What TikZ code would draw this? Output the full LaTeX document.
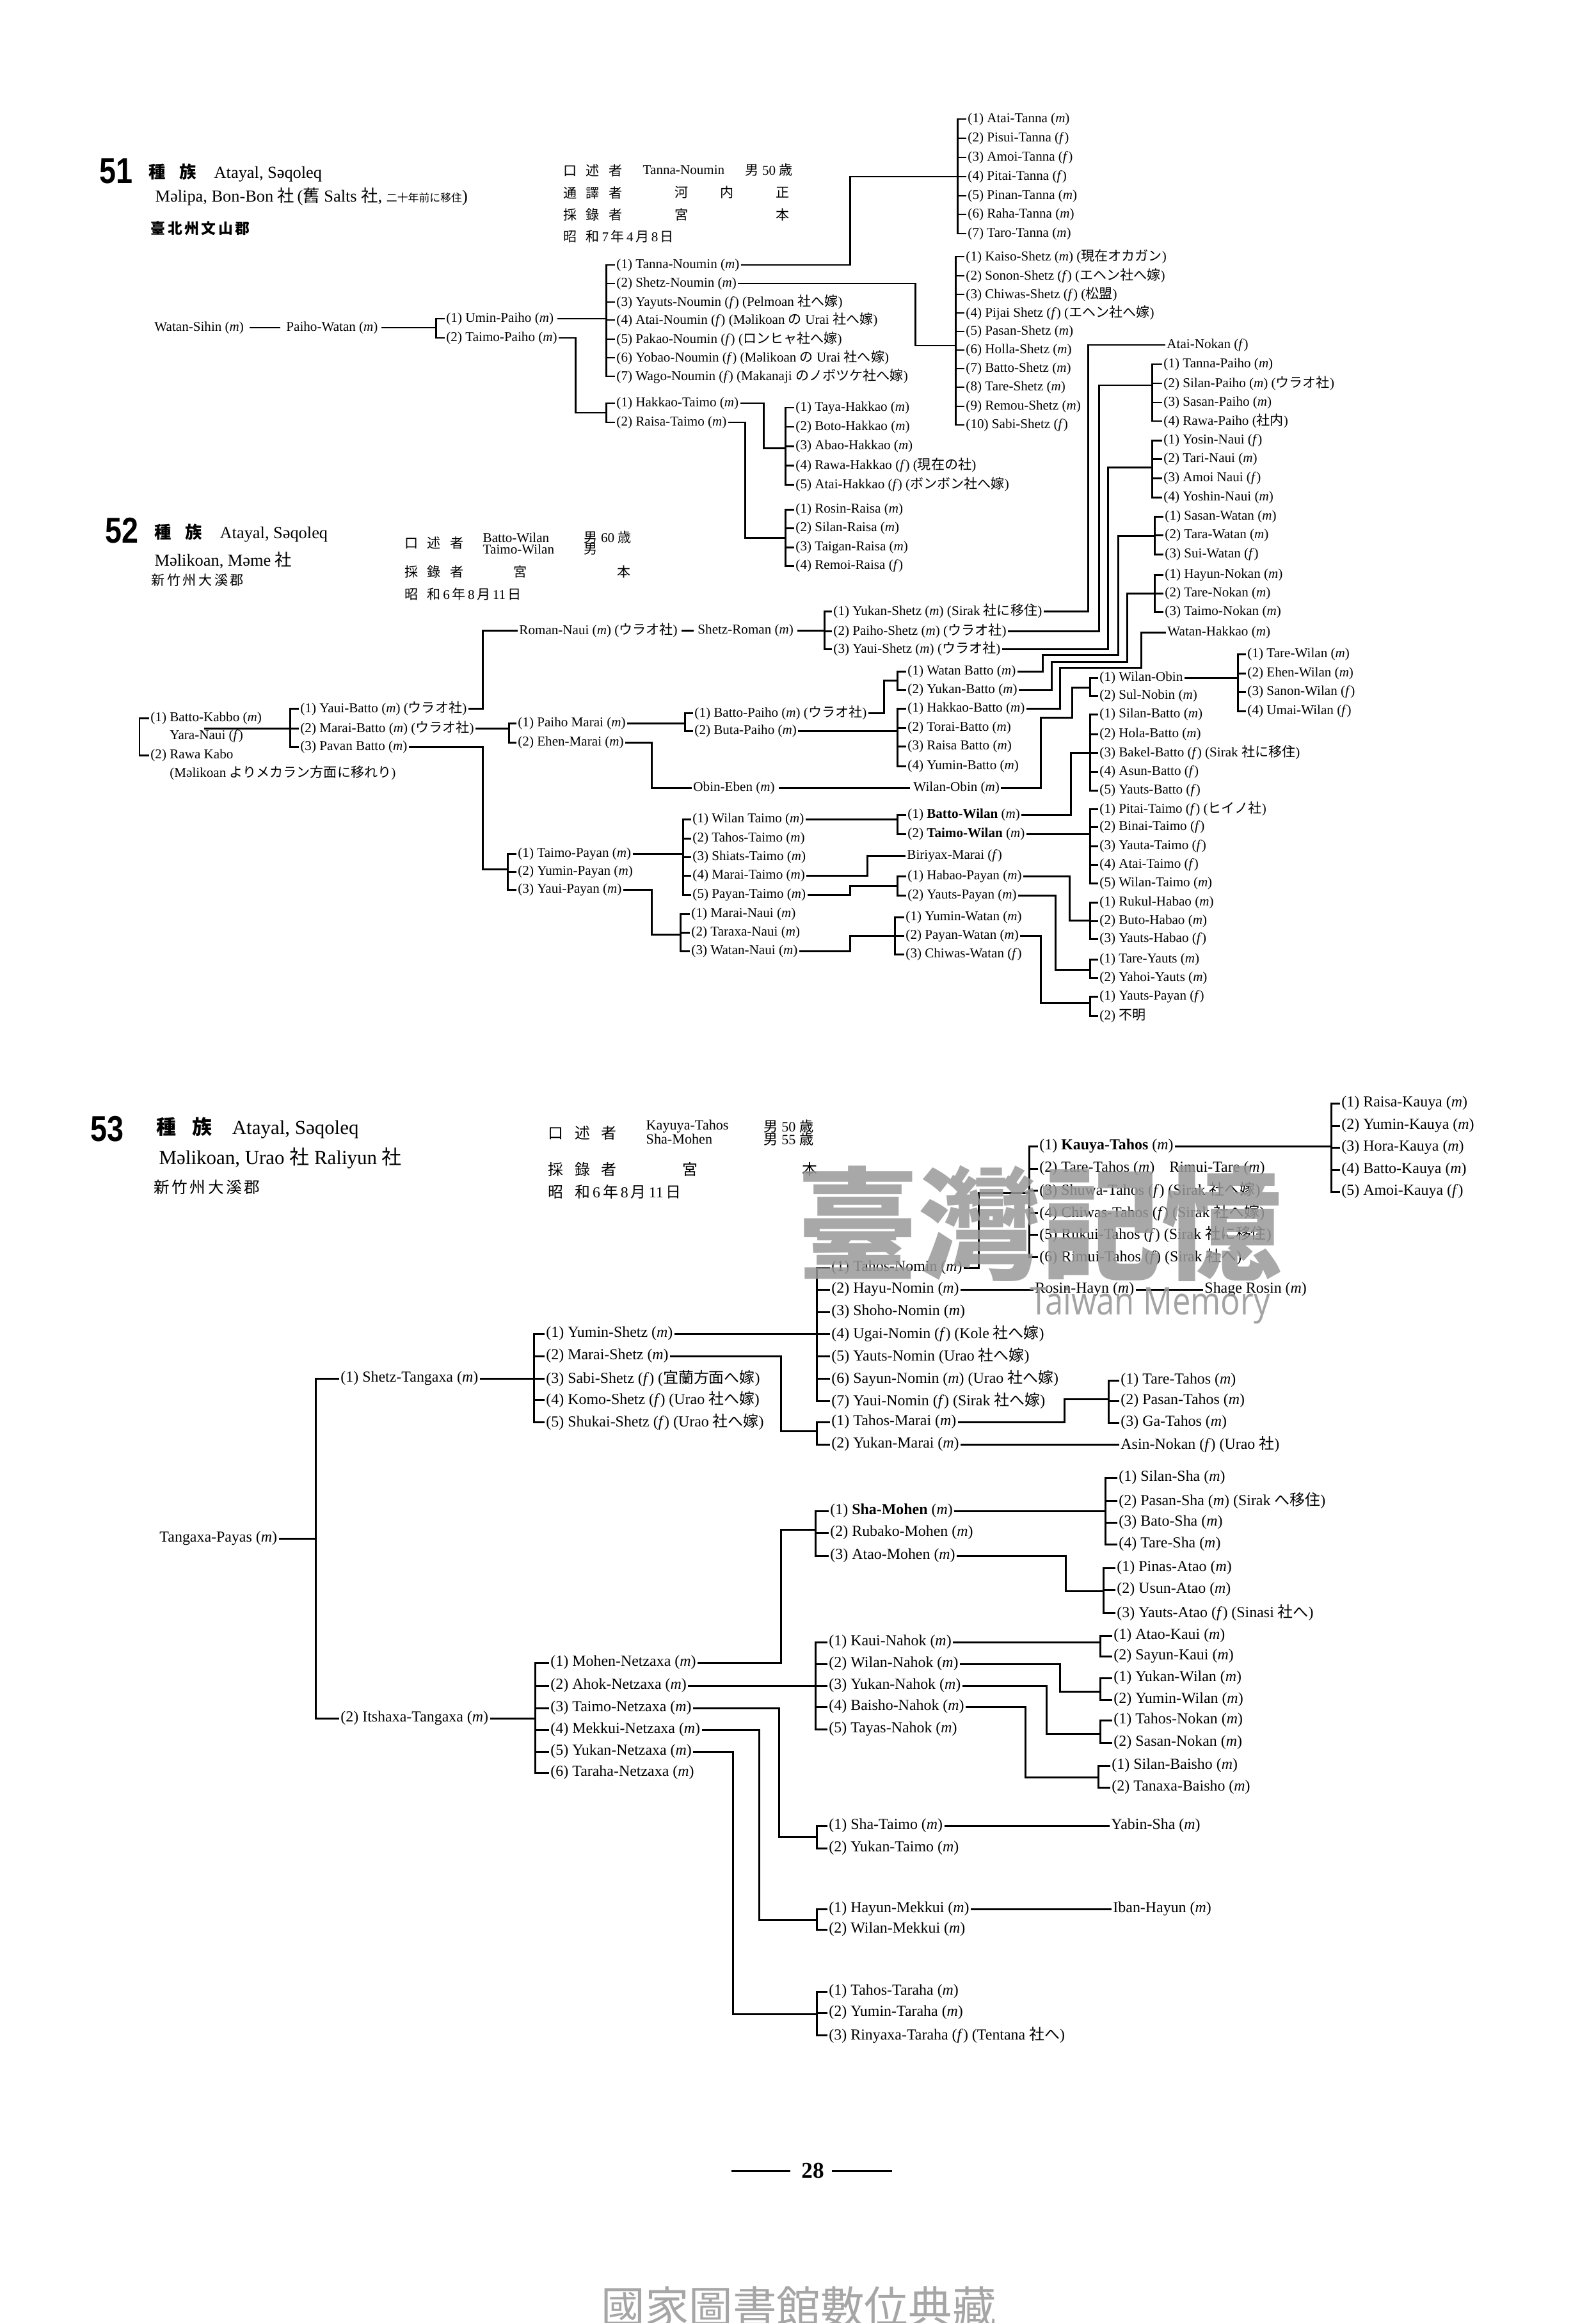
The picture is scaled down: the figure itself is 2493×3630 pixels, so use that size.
\documentclass[tikz,border=0pt]{standalone}
\usepackage{fontspec}
\usepackage{graphicx}
\setmainfont{Liberation Serif}
\newfontfamily\jp{Noto Sans CJK JP}
\newfontfamily\hdsans{Liberation Sans}
\newfontfamily\wmsans{Open Sans}
\newcommand\J[1]{{\jp #1}}
\newcommand\mal{(\textit{m})}
\newcommand\fem{(\textit{f})}
\newcommand\szA{\fontsize{6}{7}\selectfont}
\newcommand\szB{\fontsize{6.8}{8}\selectfont}
\newcommand\szH{\fontsize{7.5}{9}\selectfont}
\newcommand\szG{\fontsize{8.8}{10}\selectfont}
\newcommand\brk[4]{%
  \draw[conn] (#2.west) -- ++(-#1,0) |- (#3.west);
  \foreach \q in {#4}{\draw[conn] (\q.west) -- ++(-#1,0);}%
}
\tikzset{
  nm/.style={anchor=west,inner sep=0.5pt,font=\szA},
  nmb/.style={anchor=west,inner sep=0.5pt,font=\szB},
  hdr/.style={anchor=west,inner sep=0pt},
  cc/.style={inner sep=0pt},
  conn/.style={line width=0.85pt},
}
\begin{document}
\begin{tikzpicture}[x=0.01cm,y=-0.01cm]
\useasboundingbox (0,0) rectangle (2493,3630);
\fill[white] (0,0) rectangle (2493,3630);

% ================= 51 header
\node[hdr] (h51n) at (155,267) {\hdsans\bfseries\fontsize{16}{16}\selectfont\scalebox{0.83}[1]{51}};
\node[hdr] (h51a) at (232,270) {\szH\J{\bfseries 種\hspace{6pt}族}\hspace{8pt}Atayal, Səqoleq};
\node[hdr] (h51b) at (242,307) {\szH Məlipa, Bon-Bon \J{社}\,(\J{舊} Salts \J{社}, {\fontsize{4.8}{5}\selectfont\J{二十年前に移住}})};
\node[hdr] (h51c) at (235,357) {\J{\bfseries\fontsize{6.5}{7}\selectfont 臺\hspace{1pt}北\hspace{1pt}州\hspace{1pt}文\hspace{1pt}山\hspace{1pt}郡}};
\node[hdr] (i51a) at (880,266) {\szA\J{口\hspace{4pt}述\hspace{4pt}者}};
\node[hdr] (i51b) at (1004,266) {\szA Tanna-Noumin};
\node[hdr] (i51c) at (1164,266) {\szA\J{男} 50 \J{歳}};
\node[hdr] (i51d) at (880,301) {\szA\J{通\hspace{4pt}譯\hspace{4pt}者}};
\node[cc] (i51e) at (1065,301) {\szA\J{河}};
\node[cc] (i51f) at (1136,301) {\szA\J{内}};
\node[cc] (i51g) at (1223,301) {\szA\J{正}};
\node[hdr] (i51h) at (880,335) {\szA\J{採\hspace{4pt}錄\hspace{4pt}者}};
\node[cc] (i51i) at (1065,335) {\szA\J{宮}};
\node[cc] (i51j) at (1223,335) {\szA\J{本}};
\node[hdr] (i51k) at (880,369) {\szA\J{昭\hspace{4pt}和}\,7\,\J{年}\,4\,\J{月}\,8\,\J{日}};

% ================= 51 tree
\node[nm] (ws) at (239,512) {Watan-Sihin \mal};
\node[nm] (pw) at (445,512) {Paiho-Watan \mal};
\draw[conn] ([xshift=2pt]ws.east) -- ([xshift=-2pt]pw.west);
\node[nm] (up) at (695,498) {(1) Umin-Paiho \mal};
\node[nm] (tpo) at (695,528) {(2) Taimo-Paiho \mal};
\brk{14}{up}{tpo}{up}
\coordinate (j1) at (681,512);
\draw[conn] ([xshift=1pt]pw.east) -- (j1);

\node[nm] (n1) at (961,414) {(1) Tanna-Noumin \mal};
\node[nm] (n2) at (961,443) {(2) Shetz-Noumin \mal};
\node[nm] (n3) at (961,472) {(3) Yayuts-Noumin \fem{} (Pelmoan \J{社へ嫁})};
\node[nm] (n4) at (961,500) {(4) Atai-Noumin \fem{} (Məlikoan \J{の} Urai \J{社へ嫁})};
\node[nm] (n5) at (961,530) {(5) Pakao-Noumin \fem{} (\J{ロンヒャ社へ嫁})};
\node[nm] (n6) at (961,559) {(6) Yobao-Noumin \fem{} (Məlikoan \J{の} Urai \J{社へ嫁})};
\node[nm] (n7) at (961,588) {(7) Wago-Noumin \fem{} (Makanaji \J{のノボツケ社へ嫁})};
\brk{14}{n1}{n7}{n2,n3,n4,n5,n6}
\coordinate (j2) at (947,498);
\draw[conn] ([xshift=1pt]up.east) -- (j2);

\node[nm] (h1) at (961,630) {(1) Hakkao-Taimo \mal};
\node[nm] (h2) at (961,660) {(2) Raisa-Taimo \mal};
\brk{14}{h1}{h2}{h1}
\coordinate (j3) at (947,645);
\draw[conn] (tpo.east) -| (899,645) -- (j3);

\node[nm] (t1) at (1510,186) {(1) Atai-Tanna \mal};
\node[nm] (t2) at (1510,216) {(2) Pisui-Tanna \fem};
\node[nm] (t3) at (1510,246) {(3) Amoi-Tanna \fem};
\node[nm] (t4) at (1510,276) {(4) Pitai-Tanna \fem};
\node[nm] (t5) at (1510,306) {(5) Pinan-Tanna \mal};
\node[nm] (t6) at (1510,335) {(6) Raha-Tanna \mal};
\node[nm] (t7) at (1510,365) {(7) Taro-Tanna \mal};
\brk{14}{t1}{t7}{t2,t3,t4,t5,t6}
\coordinate (j4) at (1496,276);
\draw[conn] (n1.east) -| (1328,276) -- (j4);

\node[nm] (s1) at (1507,401) {(1) Kaiso-Shetz \mal{} (\J{現在オカガン})};
\node[nm] (s2) at (1507,431) {(2) Sonon-Shetz \fem{} (\J{エヘン社へ嫁})};
\node[nm] (s3) at (1507,460) {(3) Chiwas-Shetz \fem{} (\J{松盟})};
\node[nm] (s4) at (1507,489) {(4) Pijai Shetz \fem{} (\J{エヘン社へ嫁})};
\node[nm] (s5) at (1507,518) {(5) Pasan-Shetz \mal};
\node[nm] (s6) at (1507,547) {(6) Holla-Shetz \mal};
\node[nm] (s7) at (1507,576) {(7) Batto-Shetz \mal};
\node[nm] (s8) at (1507,605) {(8) Tare-Shetz \mal};
\node[nm] (s9) at (1507,635) {(9) Remou-Shetz \mal};
\node[nm] (s10) at (1507,664) {(10) Sabi-Shetz \fem};
\brk{14}{s1}{s10}{s2,s3,s4,s5,s6,s7,s8,s9}
\coordinate (j5) at (1493,540);
\draw[conn] (n2.east) -| (1430,540) -- (j5);

\node[nm] (k1) at (1241,637) {(1) Taya-Hakkao \mal};
\node[nm] (k2) at (1241,667) {(2) Boto-Hakkao \mal};
\node[nm] (k3) at (1241,697) {(3) Abao-Hakkao \mal};
\node[nm] (k4) at (1241,727) {(4) Rawa-Hakkao \fem{} (\J{現在の社})};
\node[nm] (k5) at (1241,757) {(5) Atai-Hakkao \fem{} (\J{ボンボン社へ嫁})};
\brk{14}{k1}{k5}{k2,k3,k4}
\coordinate (j6) at (1227,700);
\draw[conn] (h1.east) -| (1193,700) -- (j6);

\node[nm] (r1) at (1241,796) {(1) Rosin-Raisa \mal};
\node[nm] (r2) at (1241,825) {(2) Silan-Raisa \mal};
\node[nm] (r3) at (1241,855) {(3) Taigan-Raisa \mal};
\node[nm] (r4) at (1241,884) {(4) Remoi-Raisa \fem};
\brk{14}{r1}{r4}{r2,r3}
\coordinate (j7) at (1227,840);
\draw[conn] (h2.east) -| (1164,840) -- (j7);

% ================= 52 header
\node[hdr] (h52n) at (164,829) {\hdsans\bfseries\fontsize{16}{16}\selectfont\scalebox{0.83}[1]{52}};
\node[hdr] (h52a) at (241,833) {\szH\J{\bfseries 種\hspace{6pt}族}\hspace{8pt}Atayal, Səqoleq};
\node[hdr] (h52b) at (241,875) {\szH Məlikoan, Məme \J{社}};
\node[hdr] (h52c) at (236,907) {\J{\fontsize{6}{7}\selectfont 新\hspace{1pt}竹\hspace{1pt}州\hspace{1pt}大\hspace{1pt}溪\hspace{1pt}郡}};
\node[hdr] (i52a) at (632,848) {\szA\J{口\hspace{4pt}述\hspace{4pt}者}};
\node[hdr] (i52b) at (754,840) {\szA Batto-Wilan};
\node[hdr] (i52c) at (754,858) {\szA Taimo-Wilan};
\node[hdr] (i52d) at (912,840) {\szA\J{男} 60 \J{歳}};
\node[hdr] (i52e) at (912,858) {\szA\J{男}};
\node[hdr] (i52f) at (632,893) {\szA\J{採\hspace{4pt}錄\hspace{4pt}者}};
\node[cc] (i52g) at (813,893) {\szA\J{宮}};
\node[cc] (i52h) at (975,893) {\szA\J{本}};
\node[hdr] (i52i) at (632,928) {\szA\J{昭\hspace{4pt}和}\,6\,\J{年}\,8\,\J{月}\,11\,\J{日}};

% ================= 52 tree
\node[nm] (bk) at (233,1122) {(1) Batto-Kabbo \mal};
\node[nm] (rk) at (233,1180) {(2) Rawa Kabo};
\brk{15}{bk}{rk}{bk}
\node[nm] (yn) at (263,1150) {Yara-Naui \fem};
\node[nm] (mnote) at (263,1208) {(Məlikoan \J{よりメカラン方面に移れり})};
\coordinate (mk) at (319,1138);
\coordinate (j8) at (453,1138);
\draw[conn] (mk) -- (j8);

\node[nm] (yb) at (467,1107) {(1) Yaui-Batto \mal{} (\J{ウラオ社})};
\node[nm] (mb) at (467,1138) {(2) Marai-Batto \mal{} (\J{ウラオ社})};
\node[nm] (pb) at (467,1167) {(3) Pavan Batto \mal};
\brk{14}{yb}{pb}{mb}

\node[nm] (rn) at (809,985) {Roman-Naui \mal{} (\J{ウラオ社})};
\node[nm] (sr) at (1088,985) {Shetz-Roman \mal};
\draw[conn] (yb.east) -| (754,985) -- (rn.west);
\draw[conn] ([xshift=1pt]rn.east) -- ([xshift=-1pt]sr.west);
\node[nm] (ys) at (1300,955) {(1) Yukan-Shetz \mal{} (Sirak \J{社に移住})};
\node[nm] (ps) at (1300,986) {(2) Paiho-Shetz \mal{} (\J{ウラオ社})};
\node[nm] (ys3) at (1300,1014) {(3) Yaui-Shetz \mal{} (\J{ウラオ社})};
\brk{12}{ys}{ys3}{ps}
\coordinate (j9) at (1288,985);
\draw[conn] ([xshift=1pt]sr.east) -- (j9);

\node[nm] (an) at (1821,539) {Atai-Nokan \fem};
\draw[conn] (ys.east) -| (1700,539) -- (an.west);

\node[nm] (pa1) at (1816,569) {(1) Tanna-Paiho \mal};
\node[nm] (pa2) at (1816,599) {(2) Silan-Paiho \mal{} (\J{ウラオ社})};
\node[nm] (pa3) at (1816,629) {(3) Sasan-Paiho \mal};
\node[nm] (pa4) at (1816,658) {(4) Rawa-Paiho (\J{社内})};
\brk{16}{pa1}{pa4}{pa2,pa3}
\coordinate (j10) at (1800,602);
\draw[conn] (ps.east) -| (1717,602) -- (j10);

\node[nm] (na1) at (1816,688) {(1) Yosin-Naui \fem};
\node[nm] (na2) at (1816,717) {(2) Tari-Naui \mal};
\node[nm] (na3) at (1816,747) {(3) Amoi Naui \fem};
\node[nm] (na4) at (1816,777) {(4) Yoshin-Naui \mal};
\brk{16}{na1}{na4}{na2,na3}
\coordinate (j11) at (1800,730);
\draw[conn] (ys3.east) -| (1731,730) -- (j11);

\node[nm] (wa1) at (1818,807) {(1) Sasan-Watan \mal};
\node[nm] (wa2) at (1818,836) {(2) Tara-Watan \mal};
\node[nm] (wa3) at (1818,866) {(3) Sui-Watan \fem};
\brk{14}{wa1}{wa3}{wa2}
\coordinate (j12) at (1804,837);

\node[nm] (no1) at (1818,898) {(1) Hayun-Nokan \mal};
\node[nm] (no2) at (1818,927) {(2) Tare-Nokan \mal};
\node[nm] (no3) at (1818,956) {(3) Taimo-Nokan \mal};
\brk{14}{no1}{no3}{no2}
\coordinate (j13) at (1804,927);
\node[nm] (wh) at (1822,988) {Watan-Hakkao \mal};

\node[nm] (pm) at (807,1130) {(1) Paiho Marai \mal};
\node[nm] (em) at (807,1160) {(2) Ehen-Marai \mal};
\brk{12}{pm}{em}{pm}
\coordinate (j14) at (795,1138);
\draw[conn] (mb.east) -- (j14);

\node[nm] (bp1) at (1083,1114) {(1) Batto-Paiho \mal{} (\J{ウラオ社})};
\node[nm] (bp2) at (1083,1142) {(2) Buta-Paiho \mal};
\brk{13}{bp1}{bp2}{bp1}
\coordinate (j15) at (1070,1130);
\draw[conn] (pm.east) -- (j15);

\node[nm] (wb1) at (1416,1049) {(1) Watan Batto \mal};
\node[nm] (wb2) at (1416,1078) {(2) Yukan-Batto \mal};
\brk{14}{wb1}{wb2}{wb1}
\coordinate (j16) at (1402,1063);
\draw[conn] (bp1.east) -| (1381,1063) -- (j16);

\node[nm] (hb1) at (1416,1107) {(1) Hakkao-Batto \mal};
\node[nm] (hb2) at (1416,1137) {(2) Torai-Batto \mal};
\node[nm] (hb3) at (1416,1166) {(3) Raisa Batto \mal};
\node[nm] (hb4) at (1416,1197) {(4) Yumin-Batto \mal};
\brk{14}{hb1}{hb4}{hb2,hb3}
\coordinate (j17) at (1402,1142);
\draw[conn] (bp2.east) -- (j17);

\draw[conn] (wb1.east) -| (1629,1023) -| (1747,837) -- (j12);
\draw[conn] (wb2.east) -| (1643,1034) -| (1761,927) -- (j13);
\draw[conn] (hb1.east) -| (1656,1043) -| (1783,988) -- (wh.west);

\node[nm] (oe) at (1081,1231) {Obin-Eben \mal};
\draw[conn] (em.east) -| (1018,1231) -- (oe.west);
\node[nm] (wob) at (1425,1231) {Wilan-Obin \mal};
\draw[conn] ([xshift=1pt]oe.east) -- ([xshift=-1pt]wob.west);

\node[nm] (wo1) at (1716,1059) {(1) Wilan-Obin};
\node[nm] (wo2) at (1716,1087) {(2) Sul-Nobin \mal};
\brk{13}{wo1}{wo2}{wo1}
\coordinate (j18) at (1703,1074);
\draw[conn] (wob.east) -| (1626,1121) -| (1675,1074) -- (j18);

\node[nm] (wi1) at (1947,1022) {(1) Tare-Wilan \mal};
\node[nm] (wi2) at (1947,1052) {(2) Ehen-Wilan \mal};
\node[nm] (wi3) at (1947,1081) {(3) Sanon-Wilan \fem};
\node[nm] (wi4) at (1947,1111) {(4) Umai-Wilan \fem};
\brk{13}{wi1}{wi4}{wi2,wi3}
\coordinate (j19) at (1934,1059);
\draw[conn] (wo1.east) -- (j19);

\node[nm] (sb1) at (1716,1116) {(1) Silan-Batto \mal};
\node[nm] (sb2) at (1716,1147) {(2) Hola-Batto \mal};
\node[nm] (sb3) at (1716,1176) {(3) Bakel-Batto \fem{} (Sirak \J{社に移住})};
\node[nm] (sb4) at (1716,1206) {(4) Asun-Batto \fem};
\node[nm] (sb5) at (1716,1235) {(5) Yauts-Batto \fem};
\brk{13}{sb1}{sb5}{sb2,sb3,sb4}
\coordinate (j20) at (1703,1176);

\node[nm] (bw1) at (1416,1273) {(1) \textbf{Batto-Wilan} \mal};
\node[nm] (bw2) at (1416,1303) {(2) \textbf{Taimo-Wilan} \mal};
\brk{14}{bw1}{bw2}{bw1}
\coordinate (j21) at (1402,1280);
\draw[conn] (bw1.east) -| (1673,1176) -- (j20);

\node[nm] (tk1) at (1716,1264) {(1) Pitai-Taimo \fem{} (\J{ヒイノ社})};
\node[nm] (tk2) at (1716,1292) {(2) Binai-Taimo \fem};
\node[nm] (tk3) at (1716,1322) {(3) Yauta-Taimo \fem};
\node[nm] (tk4) at (1716,1351) {(4) Atai-Taimo \fem};
\node[nm] (tk5) at (1716,1380) {(5) Wilan-Taimo \mal};
\brk{13}{tk1}{tk5}{tk2,tk3,tk4}
\coordinate (j22) at (1703,1303);
\draw[conn] (bw2.east) -- (j22);

\node[nm] (ta1) at (1080,1280) {(1) Wilan Taimo \mal};
\node[nm] (ta2) at (1080,1310) {(2) Tahos-Taimo \mal};
\node[nm] (ta3) at (1080,1339) {(3) Shiats-Taimo \mal};
\node[nm] (ta4) at (1080,1368) {(4) Marai-Taimo \mal};
\node[nm] (ta5) at (1080,1398) {(5) Payan-Taimo \mal};
\brk{13}{ta1}{ta5}{ta2,ta3,ta4}
\draw[conn] (ta1.east) -- (j21);

\node[nm] (bm) at (1415,1337) {Biriyax-Marai \fem};
\draw[conn] (ta4.east) -| (1355,1337) -- (bm.west);

\node[nm] (hp1) at (1416,1369) {(1) Habao-Payan \mal};
\node[nm] (hp2) at (1416,1399) {(2) Yauts-Payan \mal};
\brk{14}{hp1}{hp2}{hp1}
\coordinate (j24) at (1402,1384);
\draw[conn] (ta5.east) -| (1328,1384) -- (j24);

\node[nm] (hk1) at (1716,1410) {(1) Rukul-Habao \mal};
\node[nm] (hk2) at (1716,1439) {(2) Buto-Habao \mal};
\node[nm] (hk3) at (1716,1467) {(3) Yauts-Habao \fem};
\brk{13}{hk1}{hk3}{hk2}
\coordinate (j25) at (1703,1438);
\draw[conn] (hp1.east) -| (1671,1438) -- (j25);

\node[nm] (yk1) at (1716,1499) {(1) Tare-Yauts \mal};
\node[nm] (yk2) at (1716,1528) {(2) Yahoi-Yauts \mal};
\brk{13}{yk1}{yk2}{yk1}
\coordinate (j26) at (1703,1515);
\draw[conn] (hp2.east) -| (1649,1515) -- (j26);

\node[nm] (tpy) at (807,1334) {(1) Taimo-Payan \mal};
\node[nm] (ymp) at (807,1362) {(2) Yumin-Payan \mal};
\node[nm] (yp) at (807,1390) {(3) Yaui-Payan \mal};
\brk{14}{tpy}{yp}{ymp}
\coordinate (j27) at (793,1358);
\draw[conn] (pb.east) -| (754,1358) -- (j27);
\coordinate (j23) at (1067,1334);
\draw[conn] (tpy.east) -- (j23);

\node[nm] (nk1) at (1078,1428) {(1) Marai-Naui \mal};
\node[nm] (nk2) at (1078,1457) {(2) Taraxa-Naui \mal};
\node[nm] (nk3) at (1078,1486) {(3) Watan-Naui \mal};
\brk{15}{nk1}{nk3}{nk2}
\coordinate (j28) at (1063,1460);
\draw[conn] (yp.east) -| (1018,1460) -- (j28);

\node[nm] (wk1) at (1413,1433) {(1) Yumin-Watan \mal};
\node[nm] (wk2) at (1413,1462) {(2) Payan-Watan \mal};
\node[nm] (wk3) at (1413,1491) {(3) Chiwas-Watan \fem};
\brk{15}{wk1}{wk3}{wk2}
\coordinate (j29) at (1398,1462);
\draw[conn] (nk3.east) -| (1328,1462) -- (j29);

\node[nm] (pk1) at (1716,1557) {(1) Yauts-Payan \fem};
\node[nm] (pk2) at (1716,1587) {(2) \J{不明}};
\brk{13}{pk1}{pk2}{pk1}
\coordinate (j30) at (1703,1567);
\draw[conn] (wk2.east) -| (1626,1567) -- (j30);

% ================= 53 header
\node[hdr] (h53n) at (141,1764) {\hdsans\bfseries\fontsize{16}{16}\selectfont\scalebox{0.83}[1]{53}};
\node[hdr] (h53a) at (244,1763) {\szG\J{\bfseries 種\hspace{7pt}族}\hspace{9pt}Atayal, Səqoleq};
\node[hdr] (h53b) at (248,1810) {\szG Məlikoan, Urao \J{社} Raliyun \J{社}};
\node[hdr] (h53c) at (240,1855) {\J{\fontsize{7}{8}\selectfont 新\hspace{1pt}竹\hspace{1pt}州\hspace{1pt}大\hspace{1pt}溪\hspace{1pt}郡}};
\node[hdr] (i53a) at (856,1770) {\szB\J{口\hspace{5pt}述\hspace{5pt}者}};
\node[hdr] (i53b) at (1009,1760) {\fontsize{6.3}{7}\selectfont Kayuya-Tahos};
\node[hdr] (i53c) at (1009,1780) {\fontsize{6.3}{7}\selectfont Sha-Mohen};
\node[hdr] (i53d) at (1193,1760) {\fontsize{6.3}{7}\selectfont\J{男} 50 \J{歳}};
\node[hdr] (i53e) at (1193,1780) {\fontsize{6.3}{7}\selectfont\J{男} 55 \J{歳}};
\node[hdr] (i53f) at (856,1827) {\szB\J{採\hspace{5pt}錄\hspace{5pt}者}};
\node[cc] (i53g) at (1078,1827) {\szB\J{宮}};
\node[cc] (i53h) at (1265,1827) {\szB\J{本}};
\node[hdr] (i53i) at (856,1862) {\szB\J{昭\hspace{5pt}和}\,6\,\J{年}\,8\,\J{月}\,11\,\J{日}};

% ================= 53 tree
\node[nmb] (tp53) at (247,2404) {Tangaxa-Payas \mal};
\node[nmb] (st) at (530,2154) {(1) Shetz-Tangaxa \mal};
\node[nmb] (it) at (530,2685) {(2) Itshaxa-Tangaxa \mal};
\brk{37}{st}{it}{st}
\coordinate (j31) at (493,2404);
\draw[conn] (tp53.east) -- (j31);

\node[nmb] (sh1) at (851,2084) {(1) Yumin-Shetz \mal};
\node[nmb] (sh2) at (851,2119) {(2) Marai-Shetz \mal};
\node[nmb] (sh3) at (851,2154) {(3) Sabi-Shetz \fem{} (\J{宜蘭方面へ嫁})};
\node[nmb] (sh4) at (851,2187) {(4) Komo-Shetz \fem{} (Urao \J{社へ嫁})};
\node[nmb] (sh5) at (851,2222) {(5) Shukai-Shetz \fem{} (Urao \J{社へ嫁})};
\brk{17}{sh1}{sh5}{sh2,sh3,sh4}
\coordinate (j32) at (834,2154);
\draw[conn] (st.east) -- (j32);

\node[nmb] (nm1) at (1297,1981) {(1) Tahos-Nomin \mal};
\node[nmb] (nm2) at (1297,2015) {(2) Hayu-Nomin \mal};
\node[nmb] (nm3) at (1297,2050) {(3) Shoho-Nomin \mal};
\node[nmb] (nm4) at (1297,2084) {(4) Ugai-Nomin \fem{} (Kole \J{社へ嫁})};
\node[nmb] (nm5) at (1297,2119) {(5) Yauts-Nomin (Urao \J{社へ嫁})};
\node[nmb] (nm6) at (1297,2154) {(6) Sayun-Nomin \mal{} (Urao \J{社へ嫁})};
\node[nmb] (nm7) at (1297,2189) {(7) Yaui-Nomin \fem{} (Sirak \J{社へ嫁})};
\brk{21}{nm1}{nm7}{nm2,nm3,nm4,nm5,nm6}
\coordinate (j33) at (1276,2084);
\draw[conn] (sh1.east) -- (j33);

\node[nmb] (mr1) at (1297,2222) {(1) Tahos-Marai \mal};
\node[nmb] (mr2) at (1297,2257) {(2) Yukan-Marai \mal};
\brk{21}{mr1}{mr2}{mr1}
\coordinate (j34) at (1276,2236);
\draw[conn] (sh2.east) -| (1220,2236) -- (j34);

\node[nmb] (tt1) at (1749,2157) {(1) Tare-Tahos \mal};
\node[nmb] (tt2) at (1749,2189) {(2) Pasan-Tahos \mal};
\node[nmb] (tt3) at (1749,2223) {(3) Ga-Tahos \mal};
\brk{17}{tt1}{tt3}{tt2}
\coordinate (j35) at (1732,2186);
\draw[conn] (mr1.east) -| (1663,2186) -- (j35);
\node[nmb] (an53) at (1749,2257) {Asin-Nokan \fem{} (Urao \J{社})};
\draw[conn] (mr2.east) -- (an53.west);

\node[nmb] (th1) at (1622,1791) {(1) \textbf{Kauya-Tahos} \mal};
\node[nmb] (th2) at (1622,1826) {(2) Tare-Tahos \mal};
\node[nmb] (th3) at (1622,1860) {(3) Shuwa-Tahos \fem{} (Sirak \J{社へ嫁})};
\node[nmb] (th4) at (1622,1895) {(4) Chiwas-Tahos \fem{} (Sirak \J{社へ嫁})};
\node[nmb] (th5) at (1622,1929) {(5) Rukui-Tahos \fem{} (Sirak \J{社に移住})};
\node[nmb] (th6) at (1622,1964) {(6) Rimui-Tahos \fem{} (Sirak \J{社へ})};
\brk{14}{th1}{th6}{th2,th3,th4,th5}
\coordinate (j36) at (1608,1864);
\draw[conn] (nm1.east) -| (1529,1864) -- (j36);
\node[nmb] (rt) at (1825,1826) {Rimui-Tare \mal};

\node[nmb] (ky1) at (2094,1724) {(1) Raisa-Kauya \mal};
\node[nmb] (ky2) at (2094,1759) {(2) Yumin-Kauya \mal};
\node[nmb] (ky3) at (2094,1793) {(3) Hora-Kauya \mal};
\node[nmb] (ky4) at (2094,1828) {(4) Batto-Kauya \mal};
\node[nmb] (ky5) at (2094,1862) {(5) Amoi-Kauya \fem};
\brk{14}{ky1}{ky5}{ky2,ky3,ky4}
\coordinate (j37) at (2080,1791);
\draw[conn] (th1.east) -- (j37);

\node[nmb] (rh) at (1615,2015) {Rosin-Hayn \mal};
\node[nmb] (sg) at (1880,2015) {Shage Rosin \mal};
\draw[conn] (nm2.east) -- (rh.west);
\draw[conn] (rh.east) -- (sg.west);

\node[nmb] (ne1) at (858,2598) {(1) Mohen-Netzaxa \mal};
\node[nmb] (ne2) at (858,2634) {(2) Ahok-Netzaxa \mal};
\node[nmb] (ne3) at (858,2669) {(3) Taimo-Netzaxa \mal};
\node[nmb] (ne4) at (858,2703) {(4) Mekkui-Netzaxa \mal};
\node[nmb] (ne5) at (858,2737) {(5) Yukan-Netzaxa \mal};
\node[nmb] (ne6) at (858,2770) {(6) Taraha-Netzaxa \mal};
\brk{22}{ne1}{ne6}{ne2,ne3,ne4,ne5}
\coordinate (j41) at (836,2685);
\draw[conn] (it.east) -- (j41);

\node[nmb] (mh1) at (1295,2361) {(1) \textbf{Sha-Mohen} \mal};
\node[nmb] (mh2) at (1295,2395) {(2) Rubako-Mohen \mal};
\node[nmb] (mh3) at (1295,2431) {(3) Atao-Mohen \mal};
\brk{21}{mh1}{mh3}{mh2}
\coordinate (j38) at (1274,2390);
\draw[conn] (ne1.east) -| (1220,2390) -- (j38);

\node[nmb] (sa1) at (1746,2309) {(1) Silan-Sha \mal};
\node[nmb] (sa2) at (1746,2345) {(2) Pasan-Sha \mal{} (Sirak \J{へ移住})};
\node[nmb] (sa3) at (1746,2379) {(3) Bato-Sha \mal};
\node[nmb] (sa4) at (1746,2413) {(4) Tare-Sha \mal};
\brk{19}{sa1}{sa4}{sa2,sa3}
\coordinate (j39) at (1727,2361);
\draw[conn] (mh1.east) -- (j39);

\node[nmb] (at1) at (1743,2450) {(1) Pinas-Atao \mal};
\node[nmb] (at2) at (1743,2484) {(2) Usun-Atao \mal};
\node[nmb] (at3) at (1743,2520) {(3) Yauts-Atao \fem{} (Sinasi \J{社へ})};
\brk{19}{at1}{at3}{at2}
\coordinate (j40) at (1724,2486);
\draw[conn] (mh3.east) -| (1665,2486) -- (j40);

\node[nmb] (nh1) at (1293,2566) {(1) Kaui-Nahok \mal};
\node[nmb] (nh2) at (1293,2600) {(2) Wilan-Nahok \mal};
\node[nmb] (nh3) at (1293,2634) {(3) Yukan-Nahok \mal};
\node[nmb] (nh4) at (1293,2667) {(4) Baisho-Nahok \mal};
\node[nmb] (nh5) at (1293,2702) {(5) Tayas-Nahok \mal};
\brk{19}{nh1}{nh5}{nh2,nh3,nh4}
\coordinate (j42) at (1274,2634);
\draw[conn] (ne2.east) -- (j42);

\node[nmb] (ka1) at (1738,2556) {(1) Atao-Kaui \mal};
\node[nmb] (ka2) at (1738,2588) {(2) Sayun-Kaui \mal};
\brk{19}{ka1}{ka2}{ka1}
\coordinate (j43) at (1719,2566);
\draw[conn] (nh1.east) -- (j43);

\node[nmb] (wl1) at (1738,2622) {(1) Yukan-Wilan \mal};
\node[nmb] (wl2) at (1738,2656) {(2) Yumin-Wilan \mal};
\brk{19}{wl1}{wl2}{wl1}
\coordinate (j44) at (1719,2643);
\draw[conn] (nh2.east) -| (1656,2643) -- (j44);

\node[nmb] (nka) at (1738,2688) {(1) Tahos-Nokan \mal};
\node[nmb] (nkb) at (1738,2723) {(2) Sasan-Nokan \mal};
\brk{19}{nka}{nkb}{nka}
\coordinate (j45) at (1719,2709);
\draw[conn] (nh3.east) -| (1635,2709) -- (j45);

\node[nmb] (bs1) at (1735,2759) {(1) Silan-Baisho \mal};
\node[nmb] (bs2) at (1735,2793) {(2) Tanaxa-Baisho \mal};
\brk{19}{bs1}{bs2}{bs1}
\coordinate (j46) at (1716,2777);
\draw[conn] (nh4.east) -| (1602,2777) -- (j46);

\node[nmb] (tm1) at (1293,2853) {(1) Sha-Taimo \mal};
\node[nmb] (tm2) at (1293,2888) {(2) Yukan-Taimo \mal};
\brk{17}{tm1}{tm2}{tm1}
\coordinate (j47) at (1276,2870);
\draw[conn] (ne3.east) -| (1217,2870) -- (j47);
\node[nmb] (yb53) at (1734,2853) {Yabin-Sha \mal};
\draw[conn] (tm1.east) -- (yb53.west);

\node[nmb] (mk1) at (1293,2983) {(1) Hayun-Mekkui \mal};
\node[nmb] (mk2) at (1293,3015) {(2) Wilan-Mekkui \mal};
\brk{17}{mk1}{mk2}{mk1}
\coordinate (j48) at (1276,3000);
\draw[conn] (ne4.east) -| (1186,3000) -- (j48);
\node[nmb] (ih) at (1737,2983) {Iban-Hayun \mal};
\draw[conn] (mk1.east) -- (ih.west);

\node[nmb] (tr1) at (1293,3112) {(1) Tahos-Taraha \mal};
\node[nmb] (tr2) at (1293,3145) {(2) Yumin-Taraha \mal};
\node[nmb] (tr3) at (1293,3180) {(3) Rinyaxa-Taraha \fem{} (Tentana \J{社へ})};
\brk{17}{tr1}{tr3}{tr2}
\coordinate (j49) at (1276,3147);
\draw[conn] (ne5.east) -| (1145,3147) -- (j49);

% ================= page number, watermarks
\node[cc] (pg) at (1270,3392) {\fontsize{10}{10}\selectfont\bfseries 28};
\draw[conn] ([xshift=-4.8pt]pg.west) -- ++(-92,0);
\draw[conn] ([xshift=3.4pt]pg.east) -- ++(94,0);

\node[cc,text=black!40,opacity=0.85] (wm1) at (1625,1912) {\jp\bfseries\fontsize{54}{54}\selectfont 臺灣記憶};
\node[cc,text=black!40,opacity=0.9] (wm2) at (1797,2040) {\wmsans\fontsize{17}{17}\selectfont\scalebox{0.85}[1]{Taiwan Memory}};
\node[cc,text=black!35] (ft) at (1248,3604) {\jp\fontsize{19.5}{20}\selectfont 國家圖書館數位典藏};
\end{tikzpicture}
\end{document}
